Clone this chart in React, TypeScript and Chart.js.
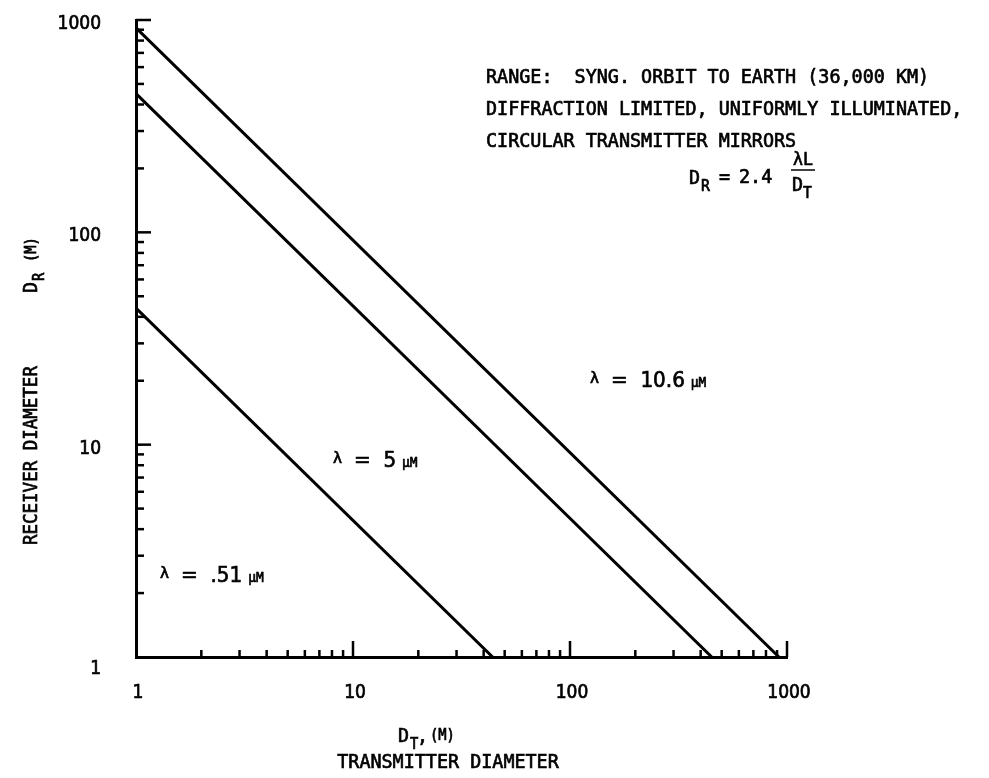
import React, { useEffect, useRef } from 'react';
import { Chart, registerables } from 'chart.js';

Chart.register(...registerables);

// ---- data ----
const seriesNames = ['λ = 10.6 μM', 'λ = 5 μM', 'λ = .51 μM'];
const dtWave106 = [1, 918];
const drWave106 = [918, 1];
const dtWave5 = [1, 450];
const drWave5 = [450, 1];
const dtWave051 = [1, 44];
const drWave051 = [44, 1];
const majorTicks = [1, 10, 100, 1000];
const tickLabels = ['1', '10', '100', '1000'];
const noteLines = [
  'RANGE:  SYNG. ORBIT TO EARTH (36,000 KM)',
  'DIFFRACTION LIMITED, UNIFORMLY ILLUMINATED,',
  'CIRCULAR TRANSMITTER MIRRORS',
];

const MONO = '"DejaVu Sans Mono", "Liberation Mono", monospace';
const COND = '"DejaVu Sans Condensed", "DejaVu Sans", sans-serif';
const SANS = '"DejaVu Sans", sans-serif';

function pts(xs: number[], ys: number[]) {
  return xs.map((x, i) => ({ x, y: ys[i] }));
}

const decorPlugin = {
  id: 'decor',
  afterDraw(chart: any) {
    const { ctx, scales } = chart;
    const xs = scales.x;
    const ys = scales.y;
    const left = xs.left;
    const bottom = ys.bottom;
    ctx.save();
    ctx.strokeStyle = '#000';
    ctx.fillStyle = '#000';
    ctx.lineWidth = 2.5;
    ctx.lineCap = 'butt';
    // minor / major ticks drawn inward
    for (const d of [1, 10, 100]) {
      for (let m = 2; m <= 10; m++) {
        const v = d * m;
        const major = m === 10;
        const py = ys.getPixelForValue(v);
        const lenY = major ? 15 : 8;
        ctx.beginPath();
        ctx.moveTo(left, py);
        ctx.lineTo(left + lenY, py);
        ctx.stroke();
        const px = xs.getPixelForValue(v);
        const lenX = major ? 16 : 7;
        ctx.beginPath();
        ctx.moveTo(px, bottom);
        ctx.lineTo(px, bottom - lenX);
        ctx.stroke();
      }
    }

    // text helper: horizontally squeezed, slightly heavy
    const txt = (s: string, x: number, y: number, size: number, font = MONO, align: CanvasTextAlign = 'left', sx = 0.92) => {
      ctx.save();
      ctx.translate(x, y);
      ctx.scale(sx, 1);
      ctx.font = `${size}px ${font}`;
      ctx.textAlign = align;
      ctx.textBaseline = 'alphabetic';
      ctx.fillText(s, 0, 0);
      ctx.lineWidth = 0.7;
      ctx.strokeText(s, 0, 0);
      const w = ctx.measureText(s).width * sx;
      ctx.restore();
      return w;
    };

    // tick labels
    majorTicks.forEach((v, i) => {
      const py = ys.getPixelForValue(v) + (v === 1 ? 17 : 9);
      txt(tickLabels[i], 101, py, 20, COND, 'right', 0.95);
      txt(tickLabels[i], xs.getPixelForValue(v) + 2, bottom + 41, 20, COND, 'center', 0.95);
    });

    // note block
    noteLines.forEach((s, i) => {
      txt(s, 486, 83 + i * 32, 20);
    });
    // formula D_R = 2.4 λL / D_T
    txt('D', 689, 184, 20);
    txt('R', 701, 191, 16);
    txt('=', 719, 183, 20);
    txt('2.4', 739, 183, 20);
    txt('λL', 803, 165, 18, MONO, 'center');
    ctx.lineWidth = 1.5;
    ctx.beginPath();
    ctx.moveTo(791, 170);
    ctx.lineTo(815, 170);
    ctx.stroke();
    txt('D', 792, 191, 20);
    txt('T', 803, 198, 16);

    // series labels
    const label = (x: number, y: number, val: string) => {
      txt('λ', x, y - 4, 15, MONO, 'left', 1);
      const w = txt('=  ' + val, x + 21, y, 21, SANS, 'left', 0.95);
      txt('μM', x + 21 + w + 6, y, 14);
    };
    label(590, 387, '10.6');
    label(333, 467, '5');
    label(160, 582, '.51');

    // x axis title
    txt('D', 398, 742, 20);
    txt('T', 410, 749, 15);
    txt(',', 417, 742, 20);
    txt('(M)', 430, 740, 15);
    txt('TRANSMITTER DIAMETER', 448, 768, 20, MONO, 'center');

    // y axis title (rotated)
    ctx.save();
    ctx.translate(37, 545);
    ctx.rotate(-Math.PI / 2);
    txt('RECEIVER DIAMETER', 0, 0, 19);
    txt('D', 252, 0, 20);
    txt('R', 264, 7, 15);
    txt('(M)', 283, -1, 15);
    ctx.restore();

    ctx.restore();
  },
};

export default function App() {
  const ref = useRef<HTMLCanvasElement | null>(null);
  useEffect(() => {
    if (!ref.current) return;
    const lineStyle = {
      borderColor: '#000',
      borderWidth: 3,
      pointRadius: 0,
      fill: false,
      tension: 0,
    };
    const chart = new Chart(ref.current, {
      type: 'line',
      data: {
        datasets: [
          { label: seriesNames[0], data: pts(dtWave106, drWave106), ...lineStyle },
          { label: seriesNames[1], data: pts(dtWave5, drWave5), ...lineStyle },
          { label: seriesNames[2], data: pts(dtWave051, drWave051), ...lineStyle },
        ],
      },
      options: {
        animation: false,
        responsive: false,
        devicePixelRatio: 1,
        layout: { padding: { left: 136, top: 20, right: 202, bottom: 121 } },
        plugins: { legend: { display: false }, tooltip: { enabled: false } },
        scales: {
          x: {
            type: 'logarithmic',
            min: 1,
            max: 1000,
            grid: { display: false, drawTicks: false },
            border: { display: true, color: '#000', width: 3 },
            ticks: { display: false },
          },
          y: {
            type: 'logarithmic',
            min: 1,
            max: 1000,
            grid: { display: false, drawTicks: false },
            border: { display: true, color: '#000', width: 3 },
            ticks: { display: false },
          },
        },
      },
      plugins: [decorPlugin],
    });
    return () => chart.destroy();
  }, []);
  return (
    <div style={{ position: 'fixed', left: 0, top: 0, width: 989, height: 778, background: '#fff' }}>
      <canvas ref={ref} width={989} height={778} style={{ width: 989, height: 778 }} />
    </div>
  );
}
